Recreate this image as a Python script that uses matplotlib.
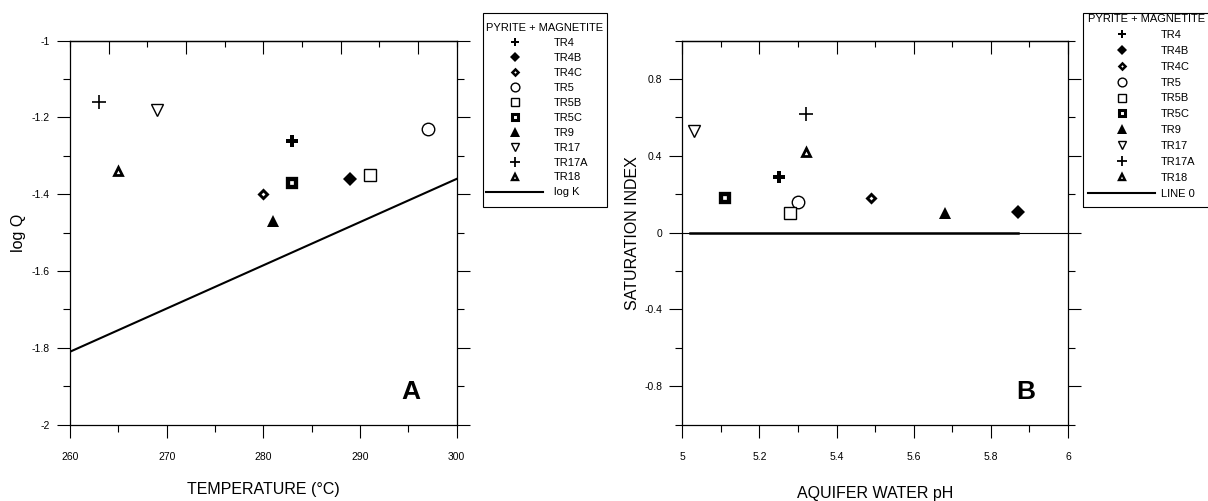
import matplotlib.pyplot as plt
from matplotlib.lines import Line2D
from matplotlib.patches import Rectangle
from matplotlib.ticker import FixedLocator, MultipleLocator, FuncFormatter, NullFormatter

plt.rcParams['font.family'] = ['Liberation Sans', 'DejaVu Sans']

# sample values: temperature / log Q (panel A), pH / saturation index (panel B)
samples = ['TR4', 'TR4B', 'TR4C', 'TR5', 'TR5B', 'TR5C', 'TR9', 'TR17', 'TR17A', 'TR18']
temp_c = [283, 289, 280, 297, 291, 283, 281, 269, 263, 265]
log_q = [-1.26, -1.36, -1.40, -1.23, -1.35, -1.37, -1.47, -1.18, -1.16, -1.34]
ph = [5.25, 5.87, 5.49, 5.30, 5.28, 5.11, 5.68, 5.03, 5.32, 5.32]
sat_index = [0.29, 0.11, 0.18, 0.16, 0.10, 0.18, 0.10, 0.53, 0.62, 0.42]

# equilibrium line for pyrite + magnetite
logk_temp = [260, 300]
log_k = [-1.81, -1.36]
# zero saturation line
line0_ph = [5.02, 5.87]
line0_si = [0.0, 0.0]

# marker, face, size, edge width, legend size, legend edge width
styles = {
    'TR4':   ('P', 'black', 8.0, 0.0, 6.3, 0.0),
    'TR4B':  ('D', 'black', 7.1, 0.0, 4.6, 0.0),
    'TR4C':  ('D', 'white', 3.8, 2.1, 3.1, 1.8),
    'TR5':   ('o', 'white', 9.0, 1.0, 6.3, 1.0),
    'TR5B':  ('s', 'white', 8.5, 1.0, 6.0, 1.0),
    'TR5C':  ('s', 'white', 6.0, 3.1, 4.2, 2.2),
    'TR9':   ('^', 'black', 9.0, 0.0, 6.5, 0.0),
    'TR17':  ('v', 'white', 8.5, 1.0, 6.0, 1.0),
    'TR17A': ('+', 'black', 9.5, 1.2, 7.0, 1.3),
    'TR18':  ('^', 'white', 5.5, 2.0, 4.2, 1.7),
}

W, H = 1208, 501
fig = plt.figure(figsize=(W / 100, H / 100), dpi=100)
ax_a = fig.add_axes([0.05795, 0.1523, 0.32, 0.7665])
ax_b = fig.add_axes([0.5648, 0.1523, 0.3193, 0.7665])

fmt = FuncFormatter(lambda v, pos: '{:g}'.format(round(v, 3)))


def setup(ax, xlim, ylim, xmaj, xmin, topmaj, topmin, ymaj, ymin):
    ax.set_xlim(xlim)
    ax.set_ylim(ylim)
    ax.xaxis.set_major_locator(MultipleLocator(xmaj))
    ax.xaxis.set_minor_locator(MultipleLocator(xmin))
    ax.yaxis.set_major_locator(FixedLocator(ymaj))
    ax.yaxis.set_minor_locator(MultipleLocator(ymin))
    ax.xaxis.set_major_formatter(fmt)
    ax.yaxis.set_major_formatter(fmt)
    ax.tick_params(which='both', direction='out', left=True, right=True,
                   bottom=True, top=False, labelsize=7.5, width=0.8)
    ax.tick_params(which='major', length=9.4)
    ax.tick_params(which='minor', length=4.7)
    ax.tick_params(axis='x', pad=10.4)
    ax.tick_params(axis='y', pad=5)
    for s in ax.spines.values():
        s.set_linewidth(0.9)
    # top axis uses its own spacing, ticks pointing inward
    sec = ax.secondary_xaxis('top')
    sec.xaxis.set_major_locator(MultipleLocator(topmaj))
    sec.xaxis.set_minor_locator(MultipleLocator(topmin))
    sec.xaxis.set_major_formatter(NullFormatter())
    sec.tick_params(which='both', direction='in', width=0.8)
    sec.tick_params(which='major', length=9.4)
    sec.tick_params(which='minor', length=4.5)
    sec.spines['top'].set_linewidth(0.9)


setup(ax_a, (260, 300), (-2, -1), 10, 5, 8, 4,
      [-2, -1.8, -1.6, -1.4, -1.2, -1], 0.1)
setup(ax_b, (5, 6), (-1, 1), 0.2, 0.1, 0.2, 0.1,
      [-0.8, -0.4, 0, 0.4, 0.8], 0.2)

# panel A
ax_a.plot(logk_temp, log_k, color='black', lw=1.5, zorder=2)
for i, name in enumerate(samples):
    m, fc, ms, mew, _, _ = styles[name]
    ax_a.plot(temp_c[i], log_q[i], ls='none', marker=m, ms=ms, mew=mew,
              mfc=fc, mec='black', color='black', zorder=3)

# panel B
ax_b.axhline(0, color='black', lw=0.8, zorder=1)
ax_b.plot(line0_ph, line0_si, color='black', lw=1.8, zorder=2)
for i, name in enumerate(samples):
    m, fc, ms, mew, _, _ = styles[name]
    ax_b.plot(ph[i], sat_index[i], ls='none', marker=m, ms=ms, mew=mew,
              mfc=fc, mec='black', color='black', zorder=3)

ax_a.set_xlabel('TEMPERATURE (°C)', fontsize=11.5, va='center')
ax_a.xaxis.set_label_coords(0.5, -0.170)
ax_a.set_ylabel('log Q', fontsize=11.5, va='center')
ax_a.yaxis.set_label_coords(-0.133, 0.5)

ax_b.set_xlabel('AQUIFER WATER pH', fontsize=11.5, va='center')
ax_b.xaxis.set_label_coords(0.5, -0.179)
ax_b.set_ylabel('SATURATION INDEX', fontsize=11.5, va='center')
ax_b.yaxis.set_label_coords(-0.128, 0.5)

ax_a.text(0.882, 0.067, 'A', transform=ax_a.transAxes, fontsize=19,
          fontweight='bold', ha='center', va='baseline')
ax_b.text(0.89, 0.067, 'B', transform=ax_b.transAxes, fontsize=19,
          fontweight='bold', ha='center', va='baseline')


def legend_handles(line_label):
    handles = []
    for name in samples:
        m, fc, _, _, lms, lmew = styles[name]
        handles.append(Line2D([], [], ls='none', marker=m, ms=lms, mew=lmew,
                              mfc=fc, mec='black', color='black'))
    handles.append(Line2D([], [], color='black', lw=1.5))
    return handles, samples + [line_label]


def legend_box(ax, line_label, x0, x1, y0, y1, tx, ty, hlen, tpad, lspace):
    h, l = legend_handles(line_label)
    ax.legend(h, l, title='PYRITE + MAGNETITE', loc='upper left',
              bbox_to_anchor=(tx / W, 1 - ty / H),
              bbox_transform=fig.transFigure, borderaxespad=0, borderpad=0,
              fontsize=8, title_fontsize=8, frameon=False,
              handlelength=hlen, handletextpad=tpad, labelspacing=lspace,
              alignment='left')
    fig.patches.append(Rectangle((x0 / W, 1 - y1 / H), (x1 - x0) / W,
                                 (y1 - y0) / H, transform=fig.transFigure,
                                 fill=False, edgecolor='black', lw=0.8))


legend_box(ax_a, 'log K', 483, 607, 13.3, 206.7, 486, 23.0, 5.13, 0.99, 0.445)
legend_box(ax_b, 'LINE 0', 1083, 1212, 12.7, 207, 1088, 14.0, 6.03, 0.54, 0.53)

fig.savefig('out.png', dpi=100)
